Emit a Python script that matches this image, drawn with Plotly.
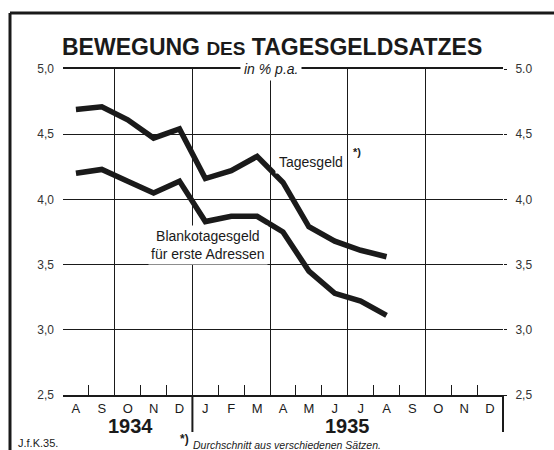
import plotly.graph_objects as go

# ---- data ----
months = ["A", "S", "O", "N", "D", "J", "F", "M", "A", "M", "J", "J", "A", "S", "O", "N", "D"]
y_ticks = [2.5, 3.0, 3.5, 4.0, 4.5, 5.0]
y_text_left = ["2,5", "3,0", "3,5", "4,0", "4,5", "5,0"]
y_text_right = ["2,5", "3,0", "3,5", "4,0", "4,5", "5.0"]
tagesgeld = [4.69, 4.71, 4.61, 4.47, 4.54, 4.16, 4.22, 4.33, 4.13, 3.79, 3.68, 3.61, 3.56]
blanko = [4.20, 4.23, 4.14, 4.05, 4.14, 3.83, 3.87, 3.87, 3.75, 3.45, 3.28, 3.22, 3.11]
years = ["1934", "1935"]

n_months = len(months)
centers = [i + 0.5 for i in range(n_months)]
grid_x = [2, 5, 8, 11, 14]
tick_x = list(range(1, n_months))

INK = "#1a1a1a"
FONT = "Liberation Sans"

fig = go.Figure()
fig.add_trace(go.Scatter(x=centers[:len(tagesgeld)], y=tagesgeld, mode="lines",
                         line=dict(color=INK, width=5.5), showlegend=False))
fig.add_trace(go.Scatter(x=centers[:len(blanko)], y=blanko, mode="lines",
                         line=dict(color=INK, width=5.5), showlegend=False))
# helper empty traces so overlay axes exist
fig.add_trace(go.Scatter(x=[], y=[], xaxis="x2", yaxis="y", showlegend=False))
fig.add_trace(go.Scatter(x=[], y=[], xaxis="x3", yaxis="y2", showlegend=False))

L, R, T, B = 63, 51, 69, 55
W, H = 554, 450
pw, ph = W - L - R, H - T - B


def px_x(p):
    return (p - L) / pw


def px_y(p):
    return (H - B - p) / ph


fig.update_layout(
    width=W, height=H,
    margin=dict(l=L, r=R, t=T, b=B),
    paper_bgcolor="white", plot_bgcolor="white",
    font=dict(family=FONT, color=INK),
    xaxis=dict(range=[0, n_months], tickvals=grid_x, showticklabels=False, ticks="",
               showgrid=True, gridcolor=INK, gridwidth=1.3, zeroline=False,
               showline=True, linecolor=INK, linewidth=2, mirror=True),
    xaxis2=dict(range=[0, n_months], overlaying="x", anchor="y", side="bottom",
                tickvals=centers, ticktext=months, ticks="", showgrid=False,
                zeroline=False, showline=False, ticklabelstandoff=4,
                tickfont=dict(size=13, color=INK, family=FONT)),
    xaxis3=dict(range=[0, n_months], overlaying="x", anchor="y", side="bottom",
                tickvals=tick_x, showticklabels=False, ticks="inside", ticklen=10,
                tickwidth=1.3, tickcolor=INK, showgrid=False, zeroline=False, showline=False),
    yaxis=dict(range=[2.5, 5.0], tickvals=y_ticks, ticktext=y_text_left, ticks="",
               showgrid=True, gridcolor=INK, gridwidth=1.3, zeroline=False,
               ticklabelstandoff=8, tickfont=dict(size=12, color="#333", family=FONT)),
    yaxis2=dict(range=[2.5, 5.0], overlaying="y", side="right", tickvals=y_ticks,
                ticktext=y_text_right, ticks="outside", ticklen=3, tickcolor=INK,
                showgrid=False, zeroline=False, showline=False, ticklabelstandoff=6,
                tickfont=dict(size=12, color="#333", family=FONT)),
)

ann = []
ann.append(dict(xref="paper", yref="paper", x=px_x(272), y=px_y(47),
                text="<b>BEWEGUNG <span style='font-size:19px'>DES</span> TAGESGELDSATZES</b>",
                showarrow=False, font=dict(size=23, family=FONT, color=INK),
                xanchor="center", yanchor="middle"))
ann.append(dict(xref="paper", yref="paper", x=px_x(271), y=1.0,
                text="<i>in % p.a.</i>", showarrow=False, bgcolor="white", borderpad=3,
                font=dict(size=14, family=FONT, color=INK), xanchor="center", yanchor="middle"))
ann.append(dict(xref="x", yref="y", x=9.6, y=4.285, text="Tagesgeld", showarrow=False,
                bgcolor="white", borderpad=3,
                font=dict(size=14, family=FONT, color=INK), xanchor="center", yanchor="middle"))
ann.append(dict(xref="x", yref="y", x=11.35, y=4.36, text="<b>*)</b>", showarrow=False,
                bgcolor="white", borderpad=4,
                font=dict(size=11, family=FONT, color=INK), xanchor="center", yanchor="middle"))
ann.append(dict(xref="x", yref="y", x=5.6, y=3.65,
                text="Blankotagesgeld<br>für erste Adressen", showarrow=False,
                bgcolor="white", borderpad=2,
                font=dict(size=14, family=FONT, color=INK), xanchor="center", yanchor="middle"))
ann.append(dict(xref="x", yref="paper", x=2.6, y=px_y(426), text="<b>" + years[0] + "</b>",
                showarrow=False, font=dict(size=20, family=FONT, color=INK),
                xanchor="center", yanchor="middle"))
ann.append(dict(xref="x", yref="paper", x=11.0, y=px_y(426), text="<b>" + years[1] + "</b>",
                showarrow=False, font=dict(size=20, family=FONT, color=INK),
                xanchor="center", yanchor="middle"))
ann.append(dict(xref="paper", yref="paper", x=px_x(16), y=px_y(443), text="J.f.K.35.",
                showarrow=False, font=dict(size=11, family=FONT, color=INK),
                xanchor="left", yanchor="middle"))
ann.append(dict(xref="paper", yref="paper", x=px_x(178), y=px_y(439), text="<b>*)</b>",
                showarrow=False, font=dict(size=12, family=FONT, color=INK),
                xanchor="left", yanchor="middle"))
ann.append(dict(xref="paper", yref="paper", x=px_x(191), y=px_y(445),
                text="<i>Durchschnitt aus verschiedenen Sätzen.</i>",
                showarrow=False, font=dict(size=10.5, family=FONT, color=INK),
                xanchor="left", yanchor="middle"))
fig.update_layout(annotations=ann)

shapes = []
# outer frame (left and top)
shapes.append(dict(type="line", xref="paper", yref="paper", x0=px_x(10), x1=px_x(10),
                   y0=px_y(13), y1=px_y(452), line=dict(color=INK, width=3)))
shapes.append(dict(type="line", xref="paper", yref="paper", x0=px_x(10), x1=px_x(556),
                   y0=px_y(13), y1=px_y(13), line=dict(color=INK, width=3)))
# year divider and right edge extending below the axis
for gx in [5, n_months]:
    shapes.append(dict(type="line", xref="paper", yref="paper", x0=gx / n_months, x1=gx / n_months,
                       y0=0, y1=px_y(432), line=dict(color=INK, width=2)))
fig.update_layout(shapes=shapes)

fig.write_html("out.html", config={"displayModeBar": False},
               post_script="document.body.style.margin='0';document.body.style.overflow='hidden';")
